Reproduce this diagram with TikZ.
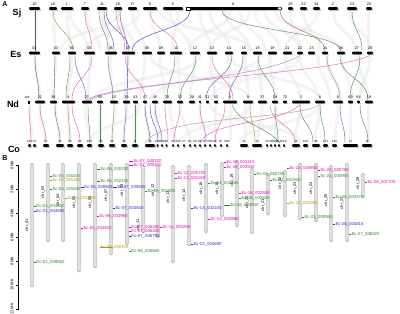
\documentclass[tikz,border=0pt]{standalone}
\usepackage{fontspec}
\setmainfont{Liberation Sans}
\setsansfont{Liberation Sans}
\definecolor{lgreen}{RGB}{80,145,80}
\definecolor{lpink}{RGB}{225,100,185}
\definecolor{lpurp}{RGB}{120,90,175}
\definecolor{lblue}{RGB}{70,70,195}
\definecolor{loliv}{RGB}{170,150,70}
\definecolor{lgblu}{RGB}{80,95,115}
\definecolor{lgray}{RGB}{150,150,150}
\definecolor{lbrown}{RGB}{175,100,90}
\definecolor{gpk}{RGB}{230,0,170}
\definecolor{ggr}{RGB}{40,130,40}
\definecolor{gbl}{RGB}{40,40,210}
\definecolor{gol}{RGB}{180,150,30}
\begin{document}
\begin{tikzpicture}[x=1pt,y=-1pt,
  panel/.style={font=\bfseries\fontsize{7}{8}\selectfont},
  rowlab/.style={font=\bfseries\fontsize{9}{10}\selectfont},
  chrnum/.style={font=\fontsize{3.8}{4}\selectfont,inner sep=0},
  conum/.style={font=\fontsize{3}{3}\selectfont,inner sep=0},
  gribbon/.style={line width=3pt,gray!18,opacity=.5},
  lk/.style={line width=0.45pt},
  bchr/.style={draw=gray!75,fill=gray!25,line width=0.35pt,rounded corners=1.7pt},
  glab/.style={font=\fontsize{4.3}{5}\selectfont,inner sep=0.3pt,anchor=west},
  clab/.style={font=\fontsize{4}{5}\selectfont,inner sep=0,rotate=90},
  axlab/.style={font=\fontsize{4}{5}\selectfont,inner sep=0,rotate=90}]
\useasboundingbox (0,0) rectangle (400,314);
\fill[white] (0,0) rectangle (400,314);

% ---------------- Panel A -----------------
\node[panel] (pA) at (5,4) {A};
\node[rowlab] (rSj) at (17,13) {Sj};
\node[rowlab] (rEs) at (16,54) {Es};
\node[rowlab] (rNd) at (13,104) {Nd};
\node[rowlab] (rCo) at (14,149) {Co};

% gray background ribbons
\foreach \a/\b in {35/35,53/55,67/70,70/88,85/100,102/110,118/135,132/145,150/160,170/190,178/172,200/210,210/230,225/250,240/265,255/280,265/300,275/340,290/300,303/320,318/285,333/355,350/370,368/368,250/210,230/190,160/250,120/60,140/85}
  \draw[gribbon] (\a,10.5) .. controls (\a,31) and (\b,31) .. (\b,51);
\foreach \a/\b in {35/40,56/53,72/68,90/88,110/112,128/125,145/140,160/165,178/180,195/190,210/215,228/230,245/248,258/262,270/275,285/300,300/318,318/330,327/340,342/352,358/368,370/360,200/95,260/150,300/210,230/320,150/250}
  \draw[gribbon] (\a,55.5) .. controls (\a,78) and (\b,78) .. (\b,100);
\foreach \a/\b in {30/32,40/45,55/60,68/70,85/90,100/100,115/112,127/123,136/135,145/150,155/160,170/175,180/190,200/205,215/215,230/230,245/245,262/258,275/275,300/295,320/315,338/335,350/350,368/368,250/180,320/240,210/300,140/90}
  \draw[gribbon] (\a,104.5) .. controls (\a,124) and (\b,124) .. (\b,143);

% colored links Sj -> Es
\foreach \c/\a/\b in {lgblu/35/35,loliv/53/73,lpink/85/92,lgreen/99/108,lpurp/104/114,lblue/106/129,lpink/116/125,lpurp/120/127,lblue/190/132,lpink/150/178,lgreen/222/341,lbrown/280/325,lgreen/352/362}
  \draw[lk,\c] (\a,10.5) .. controls (\a,31) and (\b,31) .. (\b,51);
% colored links Es -> Nd
\foreach \c/\a/\b in {lgblu/35/39,lgreen/55/54,lgreen/70/66,lpink/92/72,lpurp/75/86,lgreen/108/113,lblue/128/127,lpink/125/145,lgreen/175/167,lgreen/196/180,lpink/212/233,lpurp/243/229,lgreen/258/275,lgray/327/340,lgreen/340/368,lgreen/360/350,lpurp/232/206}
  \draw[lk,\c] (\a,55.5) .. controls (\a,78) and (\b,78) .. (\b,100);
\draw[lk,lpink] (370,55.5) .. controls (330,75) and (120,80) .. (86,100);
\draw[lk,lpurp!70] (300,55.5) .. controls (260,80) and (110,85) .. (90,100);
% colored links Nd -> Co
\foreach \c/\a/\b in {lpink/29/31,lpink/40/46,lgreen/55/60,loliv/68/70,lpink/72/80,lgreen/88/90,lgreen/100/100,loliv/114/112,lpurp/126/124,lgreen/135/135,lgblu/145/150,lblue/150/158,lpurp/155/162,lpink/165/168,lpink/180/174,lpink/200/206,lpink/225/215,loliv/250/255,lpink/270/295,lgreen/300/313,lgreen/320/325,lpurp/340/345,lgreen/360/368,lgreen/275/278}
  \draw[lk,\c] (\a,104.5) .. controls (\a,124) and (\b,124) .. (\b,143);
\draw[lk,lpink] (300,104.5) .. controls (280,125) and (210,120) .. (200,143);
\draw[lk,lbrown!70] (320,104.5) .. controls (300,120) and (160,115) .. (145,143);
\draw[lk,lgreen] (232,104.5) .. controls (240,125) and (265,125) .. (280,143);

% chromosome bars
\newcommand\chrbar[4]{% a b y label
  \fill[gray!45] (#1+0.5,#3+0.6) rectangle (#2+0.5,#3+2.2);
  \fill[black,rounded corners=1.1pt] (#1,#3-1.4) rectangle (#2,#3+1.4);
  \node[chrnum] at ({(#1+#2)/2},#3-4.5) {#4};}
\foreach \a/\b/\l in {29/40/10,49/57/19,61/73/1,81/89/7,97/107/11,114/122/16,128/137/17,143/157/8,163/183/5,186/281/6,288/293/25,300/307/22,313/320/24,328/338/2,347/357/23,366/372/20}
  {\chrbar{\a}{\b}{8.5}{\l}}
\draw[black,fill=white,line width=0.6pt] (186,7.1) rectangle (190,9.9);
\draw[black,fill=white,line width=0.6pt,rounded corners=1.4pt] (277,7.1) rectangle (282,9.9);
\foreach \a/\b/\l in {29/40/01,52/60/03,68/76/04,84/95/05,105/117/06,122/135/07,142/152/08,157/165/09,170/182/11,190/200/12,207/217/13,225/233/14,241/247/16,253/262/18,268/277/19,283/292/21,297/303/22,308/315/23,322/328/24,337/345/26,352/362/27,367/373/28}
  {\chrbar{\a}{\b}{53}{\l}}
\foreach \a/\b/\l in {35/45/21,50/57/39,62/75/4,82/92/27,97/103/34,110/118/13,123/130/35,133/138/43,143/147/47,152/158/45,163/172/25,177/183/22,189/195/38,199/201/41,206/209/51,214/218/53,223/237/5,243/253/9,258/267/37,272/278/19,283/287/70,292/310/2,315/325/8,333/343/6,348/353/69,357/360/64,365/373/18}
  {\chrbar{\a}{\b}{102}{\l}}
\fill[black] (27.5,100.5) rectangle (29.5,103.6);
\node[conum] at (27,97) {104};
\newcommand\cobar[4]{%
  \fill[gray!45] (#1+0.5,#3+0.6) rectangle (#2+0.5,#3+2.2);
  \fill[black,rounded corners=1pt] (#1,#3-1.4) rectangle (#2,#3+1.4);
  \node[conum] at ({(#1+#2)/2},#3-4.5) {#4};}
\foreach \a/\b/\l in {28/31/100,33/36/73,43/49/57,56/64/32,67/73/66,77/83/62,87/92/103,98/104/63,109/115/38,121/127/30,132/138/74,145/155/23,156.5/158.5/106,161/163/100,165.5/167.5/66,172/174/65,177/179/125,183/185/27,189/191/62,194/196/59,199/201/86,204/206/87,209/211/209,214/216/99,220/222/87,226/228/282,240/248/24,252/262/42,266/268/34,270/272/18,274/276/203,278/280/215,283/285/219,292/300/46,303/308/120,312/320/36,323/328/131,332/337/132,343/358/11,362/372/18}
  {\cobar{\a}{\b}{145.5}{\l}}

% ---------------- Panel B -----------------
\node[panel] (pB) at (5,158) {B};
\draw[line width=0.4pt] (18,165) -- (18,310);
\foreach \y/\l in {165/0,189/2,213/4,237/6,261/8,285/10,309/12}
  {\draw[line width=0.4pt] (16,\y) -- (18,\y);
   \node[axlab] at (12,\y) {\l\,Mb};}

\foreach \x/\t/\b/\l/\ly in {32/163/287/01/225,48/163/242/03/192,63/163/242/04/200,79/163/272/05/202,95/163/268/06/202,111/163/255/07/195,127/163/245/08/190,143/165/233/11/225,158/165/238/12/190,173/165/263/13/197,189/165/246/14/195,206/163/233/16/188,222/162/217/18/188,237/160/227/19/180,252/168/234/20/202,268/173/215/21/205,285/170/217/22/183,300/163/220/23/188,316/163/222/24/188,331/165/242/26/200,347/163/242/27/203,363/173/198/28/183}
  {\draw[bchr] (\x-1.7,\t) rectangle (\x+1.7,\b);
   \node[clab] at (\x-5,\ly) {chr\_\l};}

\foreach \x/\y/\tx/\c/\s in {
 48/176/52/ggr/Ec-03\_001100, 48/180/52/gol/Ec-03\_001260, 48/189/52/ggr/Ec-03\_001840,
 63/198/67/gol/Ec-04\_001850, 32/206/36/ggr/Ec-01\_004450, 32/211/36/gbl/Ec-01\_004590,
 32/262/36/ggr/Ec-01\_009560, 95/169/100/ggr/Ec-06\_000290, 79/187/84/gbl/Ec-05\_000820,
 95/181/100/ggr/Ec-06\_002100, 95/216/99/gpk/Ec-06\_004980, 79/228/83/gpk/Ec-05\_004820,
 127/161/133/gpk/Ec-07\_000320, 127/165/133/gpk/Ec-07\_000400, 111/187/117/gbl/Ec-07\_000500,
 111/208/115/gbl/Ec-07\_003840, 127/227/131/gpk/Ec-07\_006260, 127/231/131/gpk/Ec-07\_006300,
 127/236/131/gbl/Ec-07\_006790, 111/247/100/gol/Ec-08\_008700, 127/251/131/ggr/Ec-08\_006650,
 143/191/147/ggr/Ec-08\_001900, 158/227/162/gpk/Ec-11\_005260, 173/173/177/gpk/Ec-12\_000720,
 173/178/177/gpk/Ec-12\_001160, 189/208/193/gbl/Ec-13\_002100, 189/244/193/gbl/Ec-13\_004690,
 206/183/210/ggr/Ec-14\_002460, 206/219/210/gpk/Ec-14\_004880, 222/162/226/gpk/Ec-16\_003310,
 222/167/226/gpk/Ec-16\_003540, 237/193/241/gpk/Ec-18\_002550, 237/198/241/ggr/Ec-18\_002600,
 222/205/230/ggr/Ec-18\_003830, 252/174/256/ggr/Ec-19\_000780, 268/180/272/ggr/Ec-21\_001550,
 285/168/289/gpk/Ec-22\_000650, 285/203/289/gol/Ec-22\_002880, 300/217/304/ggr/Ec-23\_000950,
 316/170/320/gpk/Ec-24\_000760, 316/176/320/ggr/Ec-24\_000950, 331/197/335/ggr/Ec-26\_002375,
 331/224/335/gbl/Ec-26\_004815, 347/234/351/ggr/Ec-27\_006320, 363/182/367/gpk/Ec-28\_001700}
  {\draw[\c,line width=0.3pt] (\x+1.7,\y) -- (\tx,\y);
   \node[glab,text=\c] at (\tx,\y) {\s};}
\end{tikzpicture}
\end{document}
